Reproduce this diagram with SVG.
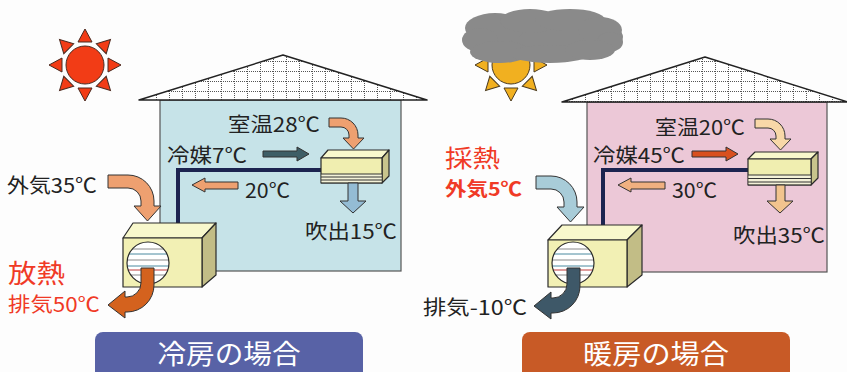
<svg xmlns="http://www.w3.org/2000/svg" width="847" height="372" viewBox="0 0 847 372">
  <style>
    .lbl { font-family: "Noto Sans CJK JP", "Noto Sans", sans-serif; font-size: 20px; fill: #222; }
    .red { fill: #f03a26; }
    .big { font-size: 26px; }
    .ban { font-family: "Noto Sans CJK JP", "Noto Sans", sans-serif; font-size: 27px; fill: #fff; text-anchor: middle; }
    .wall { stroke: #555; stroke-width: 1.2; }
    .roof { fill: url(#tiles); stroke: #222; stroke-width: 1.5; stroke-linejoin: round; }
    .edge { stroke: #2a2a2a; stroke-width: 1.2; stroke-linejoin: round; }
    .pipe { fill: none; stroke: #1c2450; stroke-width: 4; stroke-linejoin: miter; }
    .arrow { stroke: #333; stroke-width: 1; stroke-linejoin: round; }
  </style>
  <defs>
    <pattern id="tiles" x="0" y="1" width="13" height="10" patternUnits="userSpaceOnUse">
      <rect width="13" height="10" fill="#fff"/>
      <path d="M0.5,0 V10 M0,0.5 H13" stroke="#555" stroke-width="1" stroke-dasharray="1 1"/>
    </pattern>
    <clipPath id="fanL"><circle cx="148" cy="263" r="21"/></clipPath>
    <clipPath id="fanR"><circle cx="573" cy="263" r="21"/></clipPath>
    <g id="sunRays">
      <polygon points="0,-36 -7,-23 7,-23"/>
    </g>
  </defs>

  <rect width="847" height="372" fill="#fdfdfd"/>

  <!-- sunshine -->
  <g id="sun-clear" fill="#f23c16" stroke="#4a2a20" stroke-width="1">
    <g transform="translate(85,65)">
      <use href="#sunRays"/>
      <use href="#sunRays" transform="rotate(45)"/>
      <use href="#sunRays" transform="rotate(90)"/>
      <use href="#sunRays" transform="rotate(135)"/>
      <use href="#sunRays" transform="rotate(180)"/>
      <use href="#sunRays" transform="rotate(225)"/>
      <use href="#sunRays" transform="rotate(270)"/>
      <use href="#sunRays" transform="rotate(315)"/>
      <circle r="19"/>
    </g>
  </g>

  <!-- sun behind clouds -->
  <g id="sun-cloudy">
    <g transform="translate(511,65)" fill="#f1b020" stroke="#4a3a20" stroke-width="1">
      <use href="#sunRays" transform="rotate(90)"/>
      <use href="#sunRays" transform="rotate(135)"/>
      <use href="#sunRays" transform="rotate(180)"/>
      <use href="#sunRays" transform="rotate(225)"/>
      <use href="#sunRays" transform="rotate(270)"/>
      <circle r="19"/>
    </g>
    <g fill="#8a8a8a">
      <ellipse cx="545" cy="37" rx="78" ry="22"/>
      <ellipse cx="495" cy="28" rx="30" ry="15"/>
      <ellipse cx="530" cy="21" rx="30" ry="12"/>
      <ellipse cx="570" cy="20" rx="35" ry="11"/>
      <ellipse cx="600" cy="30" rx="22" ry="13"/>
      <ellipse cx="480" cy="40" rx="18" ry="12"/>
      <ellipse cx="610" cy="42" rx="13" ry="10"/>
      <ellipse cx="500" cy="52" rx="30" ry="11"/>
      <ellipse cx="550" cy="54" rx="40" ry="9"/>
      <ellipse cx="590" cy="50" rx="25" ry="10"/>
    </g>
  </g>

  <!-- cooling house -->
  <g id="house-cool">
    <rect class="wall" x="160" y="100" width="241" height="171" fill="#c6e3e8"/>
    <polygon class="roof" points="139,100 283,55 427,100"/>
  </g>

  <!-- heating house -->
  <g id="house-warm">
    <rect class="wall" x="587" y="102" width="240" height="170" fill="#ecc8d7"/>
    <polygon class="roof" points="562,102 705,57 848,102"/>
  </g>

  <!-- refrigerant pipes -->
  <g id="connectors">
    <polyline class="pipe" points="322,170 178,170 178,224"/>
    <polyline class="pipe" points="749,170 603,170 603,226"/>
  </g>

  <!-- indoor unit, cooling -->
  <g id="indoor-cool">
    <polygon class="edge" points="321,158 328,150 389,150 382,158" fill="#f8f8cc"/>
    <polygon class="edge" points="382,158 389,150 389,176 382,183" fill="#c8c48c"/>
    <rect class="edge" x="321" y="158" width="61" height="25" fill="#f0eeb0"/>
    <rect x="321.6" y="174" width="60" height="8.5" fill="#f4f2d8"/>
    <path d="M321,174 H382 M321,177 H382 M321,180 H382 M321,183 H382" stroke="#333" stroke-width="1"/>
  </g>

  <!-- indoor unit, heating -->
  <g id="indoor-warm">
    <polygon class="edge" points="748,159 755,152 818,152 811,159" fill="#f8f8cc"/>
    <polygon class="edge" points="811,159 818,152 818,178 811,185" fill="#c8c48c"/>
    <rect class="edge" x="748" y="159" width="63" height="26" fill="#f0eeb0"/>
    <rect x="748.6" y="175" width="62" height="9.5" fill="#f4f2d8"/>
    <path d="M748,175 H811 M748,178.5 H811 M748,182 H811 M748,185 H811" stroke="#333" stroke-width="1"/>
  </g>

  <!-- outdoor unit, cooling -->
  <g id="outdoor-cool">
    <polygon class="edge" points="123,238 133,223 216,223 202,238" fill="#f8f8cc"/>
    <polygon class="edge" points="202,238 216,223 216,275 202,287" fill="#c2bd86"/>
    <rect class="edge" x="123" y="238" width="79" height="49" fill="#f2f0b4"/>
    <circle cx="148" cy="263" r="21" fill="#fff"/>
    <g clip-path="url(#fanL)" stroke-width="1">
      <path d="M120,249 H176 M120,260 H176 M120,275 H176" stroke="#8a8a8a"/>
      <path d="M120,254 H176 M120,266 H176" stroke="#4a8aa0"/>
      <path d="M120,270 H176" stroke="#c03a3a"/>
    </g>
    <circle cx="148" cy="263" r="21" fill="none" stroke="#2a2a2a" stroke-width="1.2"/>
  </g>

  <!-- outdoor unit, heating -->
  <g id="outdoor-warm">
    <polygon class="edge" points="548,240 562,225 642,225 627,240" fill="#f8f8cc"/>
    <polygon class="edge" points="627,240 642,225 642,275 627,287" fill="#c2bd86"/>
    <rect class="edge" x="548" y="240" width="79" height="47" fill="#f2f0b4"/>
    <circle cx="573" cy="263" r="21" fill="#fff"/>
    <g clip-path="url(#fanR)" stroke-width="1">
      <path d="M545,249 H601 M545,260 H601 M545,275 H601" stroke="#8a8a8a"/>
      <path d="M545,254 H601 M545,266 H601" stroke="#4a8aa0"/>
      <path d="M545,270 H601" stroke="#c03a3a"/>
    </g>
    <circle cx="573" cy="263" r="21" fill="none" stroke="#2a2a2a" stroke-width="1.2"/>
  </g>

  <!-- air and refrigerant flow arrows -->
  <g id="flows">
    <!-- cooling side -->
    <path class="arrow" fill="#eea070" d="M108,175 L128,175 A26,26 0 0 1 154,201 L154,206 L161,206 L147.5,221 L134,206 L141,206 L141,201 A13,13 0 0 0 128,188 L108,188 Z"/>
    <path class="arrow" fill="#d4621e" d="M141,268 L154,268 L154,285 A27,27 0 0 1 127,312 L125,312 L125,318 L108,305 L125,291 L125,297 L127,297 A14,14 0 0 0 141,283 Z"/>
    <path class="arrow" fill="#eea070" d="M329,118 L341,118 A17,17 0 0 1 358,135 L358,138 L364,138 L353.5,149 L343,138 L349,138 L349,135 A8,8 0 0 0 341,127 L329,127 Z"/>
    <path class="arrow" fill="#3e5e66" d="M263,151 H297 V147 L309,154 L297,161 V157 H263 Z"/>
    <path class="arrow" fill="#eea070" d="M238,182 H205 V178 L192,185 L205,192 V189 H238 Z"/>
    <path class="arrow" fill="#94bcd4" d="M348,183 H358 V201 H366 L353,213 L340,201 H348 Z"/>
    <!-- heating side -->
    <path class="arrow" fill="#a8ccd8" d="M536,176 L551,176 A26,26 0 0 1 577,202 L577,207 L584,207 L570.5,222 L557,207 L564,207 L564,202 A13,13 0 0 0 551,189 L536,189 Z"/>
    <path class="arrow" fill="#3e5868" d="M567,268 L580,268 L580,286 A27,27 0 0 1 553,313 L551,313 L551,319 L534,306 L551,292 L551,298 L553,298 A14,14 0 0 0 567,284 Z"/>
    <path class="arrow" fill="#f8d8a8" d="M755,119 L768,119 A17,17 0 0 1 785,136 L785,139 L791,139 L780.5,150 L770,139 L776,139 L776,136 A8,8 0 0 0 768,128 L755,128 Z"/>
    <path class="arrow" fill="#d8501e" d="M692,151 H726 V147 L738,154 L726,161 V157 H692 Z"/>
    <path class="arrow" fill="#f0b080" d="M665,182 H631 V178 L618,185 L631,192 V189 H665 Z"/>
    <path class="arrow" fill="#f2c48e" d="M776,185 H785 V201 H793 L780,213 L767,201 H776 Z"/>
  </g>

  <!-- labels, cooling -->
  <g id="labels-cool">
    <text class="lbl" x="228" y="132" textLength="92" lengthAdjust="spacingAndGlyphs">室温28℃</text>
    <text class="lbl" x="167" y="163" textLength="80" lengthAdjust="spacingAndGlyphs">冷媒7℃</text>
    <text class="lbl" x="245" y="198" textLength="45" lengthAdjust="spacingAndGlyphs">20℃</text>
    <text class="lbl" x="305" y="239" textLength="92" lengthAdjust="spacingAndGlyphs">吹出15℃</text>
    <text class="lbl" x="7" y="193" textLength="90" lengthAdjust="spacingAndGlyphs">外気35℃</text>
    <text class="lbl red big" x="8" y="283" textLength="57" lengthAdjust="spacingAndGlyphs">放熱</text>
    <text class="lbl red" x="8" y="312" textLength="92" lengthAdjust="spacingAndGlyphs">排気50℃</text>
  </g>

  <!-- labels, heating -->
  <g id="labels-warm">
    <text class="lbl" x="655" y="135" textLength="90" lengthAdjust="spacingAndGlyphs">室温20℃</text>
    <text class="lbl" x="593" y="163" textLength="92" lengthAdjust="spacingAndGlyphs">冷媒45℃</text>
    <text class="lbl" x="672" y="198" textLength="45" lengthAdjust="spacingAndGlyphs">30℃</text>
    <text class="lbl" x="733" y="243" textLength="92" lengthAdjust="spacingAndGlyphs">吹出35℃</text>
    <text class="lbl red" x="445" y="167" style="font-size:24px" textLength="55" lengthAdjust="spacingAndGlyphs">採熱</text>
    <text class="lbl red" x="445" y="196" style="font-size:19px; font-weight:bold" textLength="77" lengthAdjust="spacingAndGlyphs">外気5℃</text>
    <text class="lbl" x="423" y="315" textLength="104" lengthAdjust="spacingAndGlyphs">排気-10℃</text>
  </g>

  <!-- captions -->
  <g id="caption-cool">
    <rect x="95" y="332" width="268" height="50" rx="8" fill="#5862a6"/>
    <text class="ban" x="229" y="364" textLength="143" lengthAdjust="spacingAndGlyphs">冷房の場合</text>
  </g>
  <g id="caption-warm">
    <rect x="522" y="332" width="268" height="50" rx="8" fill="#c85a26"/>
    <text class="ban" x="656" y="364" textLength="146" lengthAdjust="spacingAndGlyphs">暖房の場合</text>
  </g>
</svg>
